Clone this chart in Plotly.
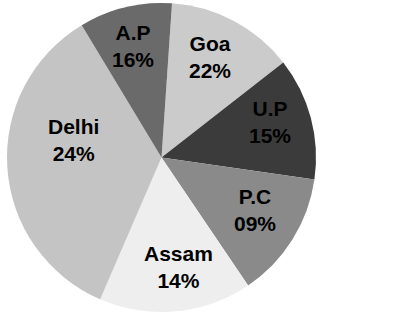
import plotly.graph_objects as go

states = ["Goa", "U.P", "P.C", "Assam", "Delhi", "A.P"]
shown_pct = ["22%", "15%", "09%", "14%", "24%", "16%"]
# slice sizes as drawn (degrees of arc)
slice_deg = [48.1, 46.2, 47.7, 57.5, 125.5, 35.0]
colors = ["#cbcbcb", "#3b3b3b", "#8a8a8a", "#eeeeee", "#c4c4c4", "#6a6a6a"]

W, H = 396, 320
# label anchor points in pixels (layout only)
label_px = [(210, 57), (270, 122), (255, 210), (178, 267), (73, 140), (133, 46)]

fig = go.Figure(go.Pie(
    labels=states,
    values=slice_deg,
    textinfo="none",
    sort=False,
    direction="clockwise",
    rotation=3.9,
    marker=dict(colors=colors, line=dict(width=0)),
    domain=dict(x=[7/W, 316/W], y=[1-313/H, 1-2/H]),
    hoverinfo="none",
    showlegend=False,
))

for s, p, (px, py) in zip(states, shown_pct, label_px):
    fig.add_annotation(
        x=px / W, y=1 - py / H, xref="paper", yref="paper",
        text=f"<b>{s}<br>{p}</b>", showarrow=False,
        xanchor="center", yanchor="middle", align="center",
        font=dict(family="Liberation Sans, Arial, sans-serif", size=21, color="#000000"),
    )

fig.update_layout(
    width=W, height=H,
    margin=dict(l=0, r=0, t=0, b=0),
    paper_bgcolor="white",
    plot_bgcolor="white",
)

fig.write_html("out.html")
